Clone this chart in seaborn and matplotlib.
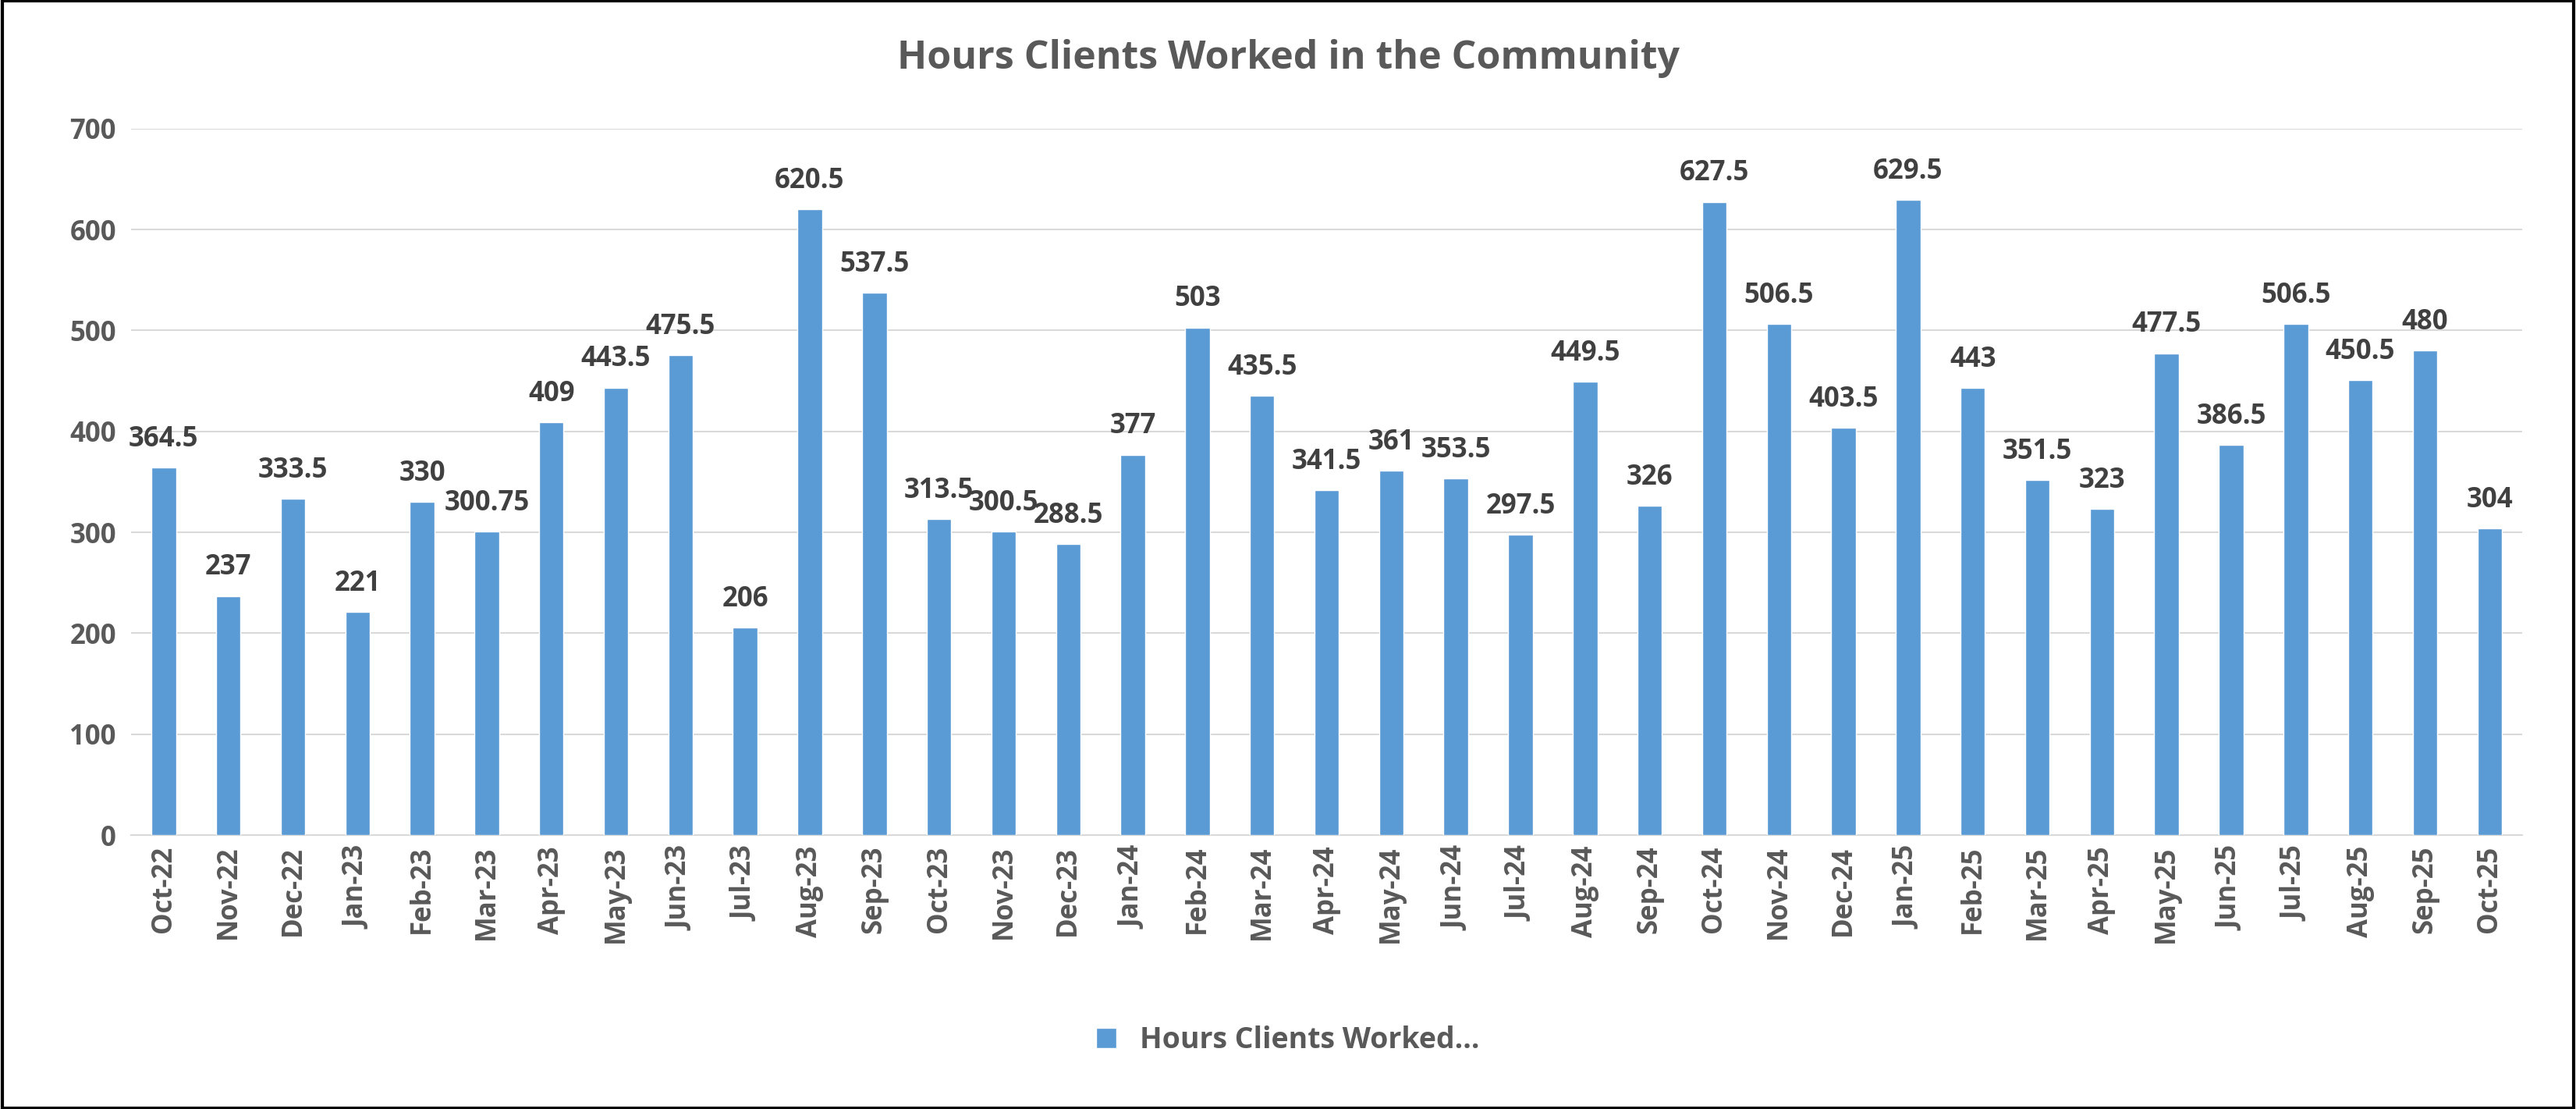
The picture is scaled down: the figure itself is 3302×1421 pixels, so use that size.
import matplotlib
matplotlib.use("Agg")
import matplotlib.pyplot as plt
import seaborn as sns
import pandas as pd

months = ["Oct-22","Nov-22","Dec-22","Jan-23","Feb-23","Mar-23","Apr-23","May-23","Jun-23","Jul-23",
          "Aug-23","Sep-23","Oct-23","Nov-23","Dec-23","Jan-24","Feb-24","Mar-24","Apr-24","May-24",
          "Jun-24","Jul-24","Aug-24","Sep-24","Oct-24","Nov-24","Dec-24","Jan-25","Feb-25","Mar-25",
          "Apr-25","May-25","Jun-25","Jul-25","Aug-25","Sep-25","Oct-25"]
hours = [364.5,237,333.5,221,330,300.75,409,443.5,475.5,206,620.5,537.5,313.5,300.5,288.5,377,503,
         435.5,341.5,361,353.5,297.5,449.5,326,627.5,506.5,403.5,629.5,443,351.5,323,477.5,386.5,
         506.5,450.5,480,304]

df = pd.DataFrame({"Month": months, "Hours": hours})

sns.set_style("white")
plt.rcParams['font.family'] = ['Open Sans', 'DejaVu Sans']
grey = "#595959"

fig = plt.figure(figsize=(33.02, 14.21), dpi=100)
ax = fig.add_axes([0.051, 0.247, 0.928, 0.637])
sns.barplot(data=df, x="Month", y="Hours", color="#5B9BD5", width=0.38, saturation=1,
            ax=ax, label="Hours Clients Worked...", zorder=3)

for i, v in enumerate(hours):
    ax.text(i, v + 14, f"{v:g}", ha="center", va="bottom", fontsize=25, fontweight="bold", color="#404040")

ax.set_ylim(0, 700)
ax.set_xlim(-0.5, len(months) - 0.5)
ax.set_yticks(range(0, 701, 100))
ax.yaxis.grid(True, color="#D9D9D9", linewidth=1.5, zorder=0)
ax.set_xlabel("")
ax.set_ylabel("")
for s in ["top", "right", "left"]:
    ax.spines[s].set_visible(False)
ax.spines["bottom"].set_color("#D9D9D9")
ax.spines["bottom"].set_linewidth(1.5)
ax.tick_params(axis="x", rotation=90, labelsize=25, colors=grey, length=0, pad=10)
ax.tick_params(axis="y", labelsize=25, colors=grey, length=0, pad=14)
for t in ax.get_xticklabels() + ax.get_yticklabels():
    t.set_fontweight("bold")

fig.suptitle("Hours Clients Worked in the Community", y=0.965, fontsize=36, fontweight="bold", color=grey)
leg = fig.legend(*ax.get_legend_handles_labels(), loc="center", bbox_to_anchor=(0.5, 0.062),
                 frameon=False, prop={"size": 27, "weight": "bold"}, handlelength=0.7, handleheight=0.7)
for t in leg.get_texts():
    t.set_color(grey)
if ax.get_legend():
    ax.get_legend().remove()

fig.patches.append(plt.Rectangle((0.001, 0.001), 0.998, 0.998, transform=fig.transFigure,
                                 fill=False, edgecolor="black", linewidth=3))
fig.savefig("out.png", dpi=100)
